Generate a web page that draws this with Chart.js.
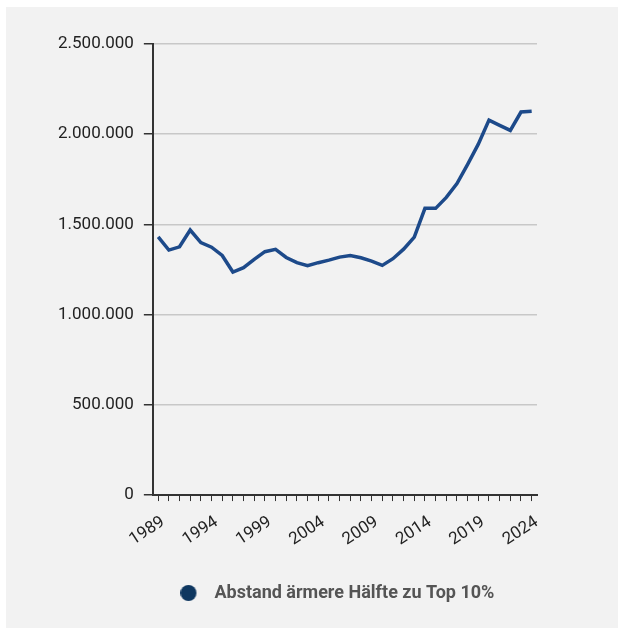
<!DOCTYPE html>
<html>
<head>
<meta charset="utf-8">
<script src="https://cdn.jsdelivr.net/npm/chart.js@4.4.1/dist/chart.umd.min.js"></script>
<style>
  body { margin: 0; background: #fff; }
  #wrap { position: absolute; left: 6px; top: 7px; width: 612px; height: 621px; background: #f2f2f2; }
</style>
</head>
<body>
<div id="wrap"><canvas id="gapChart"></canvas></div>
<script>
const years = [];
for (let y = 1989; y <= 2024; y++) years.push(String(y));

const gapValues = [
    1431000, 1358000, 1376000, 1469000, 1399000, 1374000, 1328000, 1236000, 1260000, 1306000,
    1349000, 1362000, 1317000, 1288000, 1271000, 1288000, 1302000, 1319000, 1328000, 1315000,
    1297000, 1273000, 1310000, 1363000, 1430000, 1589000, 1589000, 1650000, 1726000, 1833000,
    1945000, 2078000, 2049000, 2021000, 2123000, 2127000
];

const seriesLabel = 'Abstand ärmere Hälfte zu Top 10%';

const formatDe = (v) => String(v).replace(/\B(?=(\d{3})+(?!\d))/g, '.');

// legend dot drawn on the left side of a wider image, leaves a gap before the text
const makeDot = (color) => {
    const c = document.createElement('canvas');
    c.width = 32;
    c.height = 16;
    const g = c.getContext('2d');
    g.fillStyle = color;
    g.beginPath();
    g.arc(8, 8, 8, 0, Math.PI * 2);
    g.fill();
    return c;
};

// center the legend under the plot area instead of the whole canvas
const legendShift = {
    id: 'legendShift',
    afterLayout(chart) {
        const lg = chart.legend;
        if (!lg) return;
        const target = (chart.chartArea.left + chart.chartArea.right) / 2 - 4;
        const d = target - (lg.left + lg.right) / 2;
        lg.left += d;
        lg.right += d;
    }
};

document.addEventListener('DOMContentLoaded', () => {
    const ctx = document.getElementById('gapChart').getContext('2d');
    const dot = makeDot('#0e3760');

    new Chart(ctx, {
        type: 'line',
        data: {
            labels: years,
            datasets: [{
                label: seriesLabel,
                data: gapValues,
                borderColor: '#1d4a8a',
                backgroundColor: '#0e3760',
                borderWidth: 3.5,
                pointRadius: 0,
                tension: 0,
                fill: false
            }]
        },
        plugins: [legendShift],
        options: {
            responsive: true,
            maintainAspectRatio: false,
            animation: false,
            layout: {
                padding: { left: 42, right: 81, top: 37, bottom: 16 }
            },
            plugins: {
                tooltip: { enabled: false },
                legend: {
                    position: 'bottom',
                    labels: {
                        usePointStyle: true,
                        pointStyle: dot,
                        boxWidth: 18,
                        boxHeight: 18,
                        padding: 23,
                        color: '#555',
                        font: { family: 'Roboto', size: 18, weight: 'bold' }
                    }
                }
            },
            scales: {
                x: {
                    offset: true,
                    grid: {
                        drawOnChartArea: false,
                        drawTicks: true,
                        tickLength: 6,
                        tickColor: '#333',
                        offset: false
                    },
                    border: { display: true, color: '#333', width: 2 },
                    ticks: {
                        autoSkip: false,
                        minRotation: 33,
                        maxRotation: 33,
                        padding: 11,
                        labelOffset: 5,
                        color: '#222',
                        font: { family: 'Roboto', size: 17 },
                        callback: function (value, index) {
                            return index % 5 === 0 ? this.getLabelForValue(value) : '';
                        }
                    }
                },
                y: {
                    min: 0,
                    max: 2500000,
                    grid: {
                        color: '#c8c8c8',
                        lineWidth: 1.5,
                        tickLength: 9,
                        tickColor: '#333'
                    },
                    border: { display: true, color: '#333', width: 2 },
                    ticks: {
                        stepSize: 500000,
                        padding: 10,
                        color: '#222',
                        font: { family: 'Roboto', size: 17 },
                        callback: (v) => formatDe(v)
                    }
                }
            }
        }
    });
});
</script>
</body>
</html>
